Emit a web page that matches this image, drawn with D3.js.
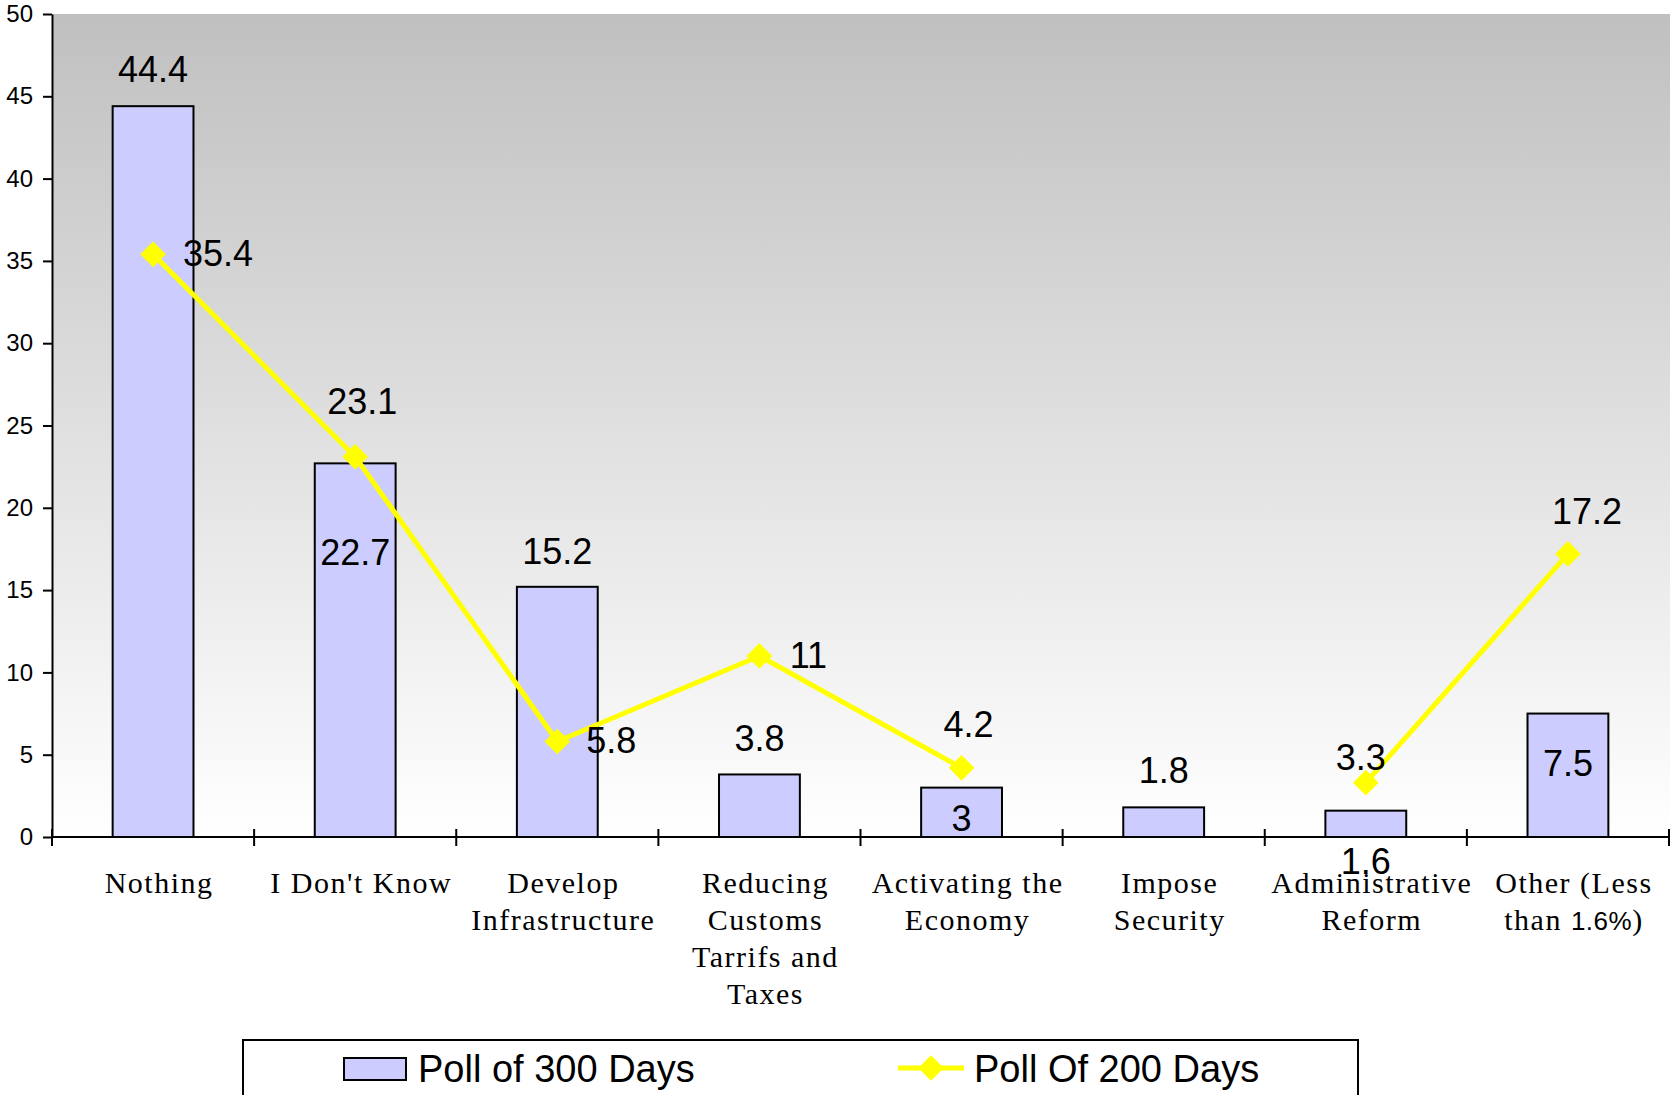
<!DOCTYPE html>
<html>
<head>
<meta charset="utf-8">
<script src="https://cdn.jsdelivr.net/npm/d3@7"></script>
<style>
  html, body { margin: 0; padding: 0; background: #fff; }
  svg { display: block; }
  .num { font-family: "Liberation Sans", Arial, sans-serif; font-size: 36px; fill: #000; }
  .legend .num { font-size: 38px; }
  .cat { font-family: "Liberation Serif", "Times New Roman", serif; font-size: 30px; letter-spacing: 1.5px; fill: #000; }
  .cat .sans { font-family: "Liberation Sans", Arial, sans-serif; font-size: 26px; letter-spacing: 0.5px; }
  .axis text { font-family: "Liberation Sans", Arial, sans-serif; font-size: 24px; fill: #000; }
  .axis path, .axis line { stroke: #000; stroke-width: 2; }
</style>
</head>
<body>
<svg id="chart"></svg>
<script>
// categories (line breaks as in the original chart)
const categories = [
  "Nothing",
  "I Don't Know",
  "Develop\nInfrastructure",
  "Reducing\nCustoms\nTarrifs and\nTaxes",
  "Activating the\nEconomy",
  "Impose\nSecurity",
  "Administrative\nReform",
  "Other (Less\nthan 1.6%)"
];

// Poll of 300 Days (bars)
const poll300 = [44.4, 22.7, 15.2, 3.8, 3, 1.8, 1.6, 7.5];
// Poll Of 200 Days (line), no value for "Impose Security"
const poll200 = [35.4, 23.1, 5.8, 11, 4.2, null, 3.3, 17.2];

const yTicks = [0, 5, 10, 15, 20, 25, 30, 35, 40, 45, 50];

// label placement as in the source chart (text centre, relative to the mark)
const barLabelDy = [-37, 89, -36, -36, 30, -37, 50, 49];
const lineLabelDx = [65, 7, 54, 49, 7, 0, -5, 19];
const lineLabelDy = [-1, -56, -1, -1, -44, 0, -26, -43];

const config = {
  width: 1670,
  height: 1095,
  margin: { top: 14, right: 1, bottom: 258, left: 52 }
};

const svg = d3.select("#chart")
    .attr("width", config.width)
    .attr("height", config.height);

const plotW = config.width - config.margin.left - config.margin.right;
const plotH = config.height - config.margin.top - config.margin.bottom;

const defs = svg.append("defs");
const grad = defs.append("linearGradient")
    .attr("id", "bg")
    .attr("x1", 0).attr("y1", 0).attr("x2", 0).attr("y2", 1);
grad.append("stop").attr("offset", "0%").attr("stop-color", "#c0c0c0");
grad.append("stop").attr("offset", "100%").attr("stop-color", "#ffffff");

const chart = svg.append("g")
    .attr("transform", `translate(${config.margin.left},${config.margin.top})`);

chart.append("rect")
    .attr("width", plotW + 1)
    .attr("height", plotH)
    .attr("fill", "url(#bg)");

const xScale = d3.scaleBand()
    .domain(categories)
    .range([0, plotW])
    .padding(0);

const yScale = d3.scaleLinear()
    .domain([0, 50])
    .range([plotH, 0]);

const barW = xScale.bandwidth() * 0.4;
const cx = c => xScale(c) + xScale.bandwidth() / 2;

// bars
chart.selectAll(".bar")
    .data(poll300)
    .join("rect")
    .attr("class", "bar")
    .attr("x", (d, i) => cx(categories[i]) - barW / 2)
    .attr("y", d => yScale(d))
    .attr("width", barW)
    .attr("height", d => plotH - yScale(d))
    .attr("fill", "#ccccff")
    .attr("stroke", "#000")
    .attr("stroke-width", 2);

// y axis
const yAxis = d3.axisLeft(yScale)
    .tickValues(yTicks)
    .tickSize(9)
    .tickSizeOuter(0)
    .tickPadding(10);
chart.append("g")
    .attr("class", "axis y-axis")
    .call(yAxis);

// x axis: baseline with ticks between categories
const xAxisG = chart.append("g").attr("class", "axis x-axis");
xAxisG.append("line")
    .attr("x1", 0).attr("x2", plotW)
    .attr("y1", plotH).attr("y2", plotH)
    .attr("stroke", "#000").attr("stroke-width", 2);
const edges = categories.map(c => xScale(c)).concat([plotW]);
xAxisG.selectAll(".xtick")
    .data(edges)
    .join("line")
    .attr("class", "xtick")
    .attr("x1", d => d).attr("x2", d => d)
    .attr("y1", plotH - 8).attr("y2", plotH + 9)
    .attr("stroke", "#000").attr("stroke-width", 2);

// category labels
const catG = chart.selectAll(".cat")
    .data(categories)
    .join("text")
    .attr("class", "cat")
    .attr("text-anchor", "middle")
    .attr("transform", d => `translate(${cx(d) + 6},${plotH + 45})`);
catG.each(function(d) {
  const t = d3.select(this);
  d.split("\n").forEach((ln, i) => {
    // the percentage in the last label is set in a sans face in the original
    const parts = ln.split(/(\d+(?:\.\d+)?%)/);
    parts.forEach((p, j) => {
      if (!p) return;
      const sp = t.append("tspan").text(p);
      if (j === 0 || (j === 1 && !parts[0])) {
        sp.attr("x", 0).attr("y", i * 37.3).attr("dy", "0.35em");
      }
      if (/%$/.test(p)) sp.attr("class", "sans");
    });
  });
});

// line series
const pts = poll200.map((v, i) => ({ c: categories[i], v: v, i: i }));
const line = d3.line()
    .defined(d => d.v != null)
    .x(d => cx(d.c))
    .y(d => yScale(d.v));

chart.append("path")
    .datum(pts)
    .attr("d", line)
    .attr("fill", "none")
    .attr("stroke", "#ffff00")
    .attr("stroke-width", 5)
    .attr("stroke-linejoin", "round");

const diamond = d3.symbol().type(d3.symbolDiamond2).size(420);
chart.selectAll(".marker")
    .data(pts.filter(d => d.v != null))
    .join("path")
    .attr("class", "marker")
    .attr("d", diamond)
    .attr("transform", d => `translate(${cx(d.c)},${yScale(d.v)})`)
    .attr("fill", "#ffff00");

// bar value labels
chart.selectAll(".barLabel")
    .data(poll300)
    .join("text")
    .attr("class", "num barLabel")
    .attr("text-anchor", "middle")
    .attr("x", (d, i) => cx(categories[i]))
    .attr("y", (d, i) => yScale(d) + barLabelDy[i])
    .attr("dy", "0.36em")
    .text(d => d);

// line value labels
chart.selectAll(".lineLabel")
    .data(pts.filter(d => d.v != null))
    .join("text")
    .attr("class", "num lineLabel")
    .attr("text-anchor", "middle")
    .attr("x", d => cx(d.c) + lineLabelDx[d.i])
    .attr("y", d => yScale(d.v) + lineLabelDy[d.i])
    .attr("dy", "0.36em")
    .text(d => d.v);

// legend
const legend = svg.append("g").attr("class", "legend");
legend.append("rect")
    .attr("x", 243).attr("y", 1040)
    .attr("width", 1115).attr("height", 90)
    .attr("fill", "#fff")
    .attr("stroke", "#000")
    .attr("stroke-width", 2);

legend.append("rect")
    .attr("x", 344).attr("y", 1058)
    .attr("width", 62).attr("height", 22)
    .attr("fill", "#ccccff")
    .attr("stroke", "#000")
    .attr("stroke-width", 2);
legend.append("text")
    .attr("class", "num")
    .attr("x", 418).attr("y", 1068)
    .attr("dy", "0.36em")
    .text("Poll of 300 Days");

legend.append("line")
    .attr("x1", 898).attr("x2", 964)
    .attr("y1", 1068).attr("y2", 1068)
    .attr("stroke", "#ffff00")
    .attr("stroke-width", 5);
legend.append("path")
    .attr("d", diamond)
    .attr("transform", "translate(931,1068)")
    .attr("fill", "#ffff00");
legend.append("text")
    .attr("class", "num")
    .attr("x", 974).attr("y", 1068)
    .attr("dy", "0.36em")
    .text("Poll Of 200 Days");
</script>
</body>
</html>
